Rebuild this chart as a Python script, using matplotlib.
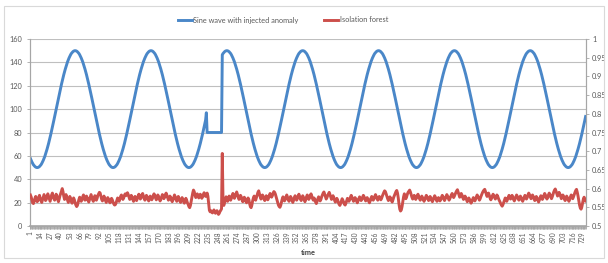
import numpy as np
import matplotlib
matplotlib.use("Agg")
import matplotlib.pyplot as plt
from matplotlib.lines import Line2D
from matplotlib.patches import Rectangle

plt.rcParams['font.family'] = ['Lato', 'DejaVu Sans']

series_names = ["Sine wave with injected anomaly", "Isolation forest"]

sine_wave = [
    57.8, 56.2, 54.8, 53.5, 52.4, 51.6, 50.9, 50.4, 50.1,
    # 10-109
    50.0, 50.1, 50.4, 50.9, 51.6, 52.4, 53.5, 54.8, 56.2, 57.8,
    59.5, 61.5, 63.6, 65.8, 68.1, 70.6, 73.2, 75.9, 78.7, 81.6,
    84.5, 87.6, 90.6, 93.7, 96.9, 100.0, 103.1, 106.3, 109.4, 112.4,
    115.5, 118.4, 121.3, 124.1, 126.8, 129.4, 131.9, 134.2, 136.4, 138.5,
    140.5, 142.2, 143.8, 145.2, 146.5, 147.6, 148.4, 149.1, 149.6, 149.9,
    150.0, 149.9, 149.6, 149.1, 148.4, 147.6, 146.5, 145.2, 143.8, 142.2,
    140.5, 138.5, 136.4, 134.2, 131.9, 129.4, 126.8, 124.1, 121.3, 118.4,
    115.5, 112.4, 109.4, 106.3, 103.1, 100.0, 96.9, 93.7, 90.6, 87.6,
    84.5, 81.6, 78.7, 75.9, 73.2, 70.6, 68.1, 65.8, 63.6, 61.5,
    59.5, 57.8, 56.2, 54.8, 53.5, 52.4, 51.6, 50.9, 50.4, 50.1,
    # 110-209
    50.0, 50.1, 50.4, 50.9, 51.6, 52.4, 53.5, 54.8, 56.2, 57.8,
    59.5, 61.5, 63.6, 65.8, 68.1, 70.6, 73.2, 75.9, 78.7, 81.6,
    84.5, 87.6, 90.6, 93.7, 96.9, 100.0, 103.1, 106.3, 109.4, 112.4,
    115.5, 118.4, 121.3, 124.1, 126.8, 129.4, 131.9, 134.2, 136.4, 138.5,
    140.5, 142.2, 143.8, 145.2, 146.5, 147.6, 148.4, 149.1, 149.6, 149.9,
    150.0, 149.9, 149.6, 149.1, 148.4, 147.6, 146.5, 145.2, 143.8, 142.2,
    140.5, 138.5, 136.4, 134.2, 131.9, 129.4, 126.8, 124.1, 121.3, 118.4,
    115.5, 112.4, 109.4, 106.3, 103.1, 100.0, 96.9, 93.7, 90.6, 87.6,
    84.5, 81.6, 78.7, 75.9, 73.2, 70.6, 68.1, 65.8, 63.6, 61.5,
    59.5, 57.8, 56.2, 54.8, 53.5, 52.4, 51.6, 50.9, 50.4, 50.1,
    # 210-233
    50.0, 50.1, 50.4, 50.9, 51.6, 52.4, 53.5, 54.8, 56.2, 57.8,
    59.5, 61.5, 63.6, 65.8, 68.1, 70.6, 73.2, 75.9, 78.7, 81.6,
    84.5, 87.6, 90.6, 96.9,
    # 234-253 injected anomaly
    80.0, 80.0, 80.0, 80.0, 80.0, 80.0, 80.0, 80.0, 80.0, 80.0,
    80.0, 80.0, 80.0, 80.0, 80.0, 80.0, 80.0, 80.0, 80.0, 80.0,
    # 254-309
    146.5, 147.6, 148.4, 149.1, 149.6, 149.9,
    150.0, 149.9, 149.6, 149.1, 148.4, 147.6, 146.5, 145.2, 143.8, 142.2,
    140.5, 138.5, 136.4, 134.2, 131.9, 129.4, 126.8, 124.1, 121.3, 118.4,
    115.5, 112.4, 109.4, 106.3, 103.1, 100.0, 96.9, 93.7, 90.6, 87.6,
    84.5, 81.6, 78.7, 75.9, 73.2, 70.6, 68.1, 65.8, 63.6, 61.5,
    59.5, 57.8, 56.2, 54.8, 53.5, 52.4, 51.6, 50.9, 50.4, 50.1,
    # 310-409
    50.0, 50.1, 50.4, 50.9, 51.6, 52.4, 53.5, 54.8, 56.2, 57.8,
    59.5, 61.5, 63.6, 65.8, 68.1, 70.6, 73.2, 75.9, 78.7, 81.6,
    84.5, 87.6, 90.6, 93.7, 96.9, 100.0, 103.1, 106.3, 109.4, 112.4,
    115.5, 118.4, 121.3, 124.1, 126.8, 129.4, 131.9, 134.2, 136.4, 138.5,
    140.5, 142.2, 143.8, 145.2, 146.5, 147.6, 148.4, 149.1, 149.6, 149.9,
    150.0, 149.9, 149.6, 149.1, 148.4, 147.6, 146.5, 145.2, 143.8, 142.2,
    140.5, 138.5, 136.4, 134.2, 131.9, 129.4, 126.8, 124.1, 121.3, 118.4,
    115.5, 112.4, 109.4, 106.3, 103.1, 100.0, 96.9, 93.7, 90.6, 87.6,
    84.5, 81.6, 78.7, 75.9, 73.2, 70.6, 68.1, 65.8, 63.6, 61.5,
    59.5, 57.8, 56.2, 54.8, 53.5, 52.4, 51.6, 50.9, 50.4, 50.1,
    # 410-509
    50.0, 50.1, 50.4, 50.9, 51.6, 52.4, 53.5, 54.8, 56.2, 57.8,
    59.5, 61.5, 63.6, 65.8, 68.1, 70.6, 73.2, 75.9, 78.7, 81.6,
    84.5, 87.6, 90.6, 93.7, 96.9, 100.0, 103.1, 106.3, 109.4, 112.4,
    115.5, 118.4, 121.3, 124.1, 126.8, 129.4, 131.9, 134.2, 136.4, 138.5,
    140.5, 142.2, 143.8, 145.2, 146.5, 147.6, 148.4, 149.1, 149.6, 149.9,
    150.0, 149.9, 149.6, 149.1, 148.4, 147.6, 146.5, 145.2, 143.8, 142.2,
    140.5, 138.5, 136.4, 134.2, 131.9, 129.4, 126.8, 124.1, 121.3, 118.4,
    115.5, 112.4, 109.4, 106.3, 103.1, 100.0, 96.9, 93.7, 90.6, 87.6,
    84.5, 81.6, 78.7, 75.9, 73.2, 70.6, 68.1, 65.8, 63.6, 61.5,
    59.5, 57.8, 56.2, 54.8, 53.5, 52.4, 51.6, 50.9, 50.4, 50.1,
    # 510-609
    50.0, 50.1, 50.4, 50.9, 51.6, 52.4, 53.5, 54.8, 56.2, 57.8,
    59.5, 61.5, 63.6, 65.8, 68.1, 70.6, 73.2, 75.9, 78.7, 81.6,
    84.5, 87.6, 90.6, 93.7, 96.9, 100.0, 103.1, 106.3, 109.4, 112.4,
    115.5, 118.4, 121.3, 124.1, 126.8, 129.4, 131.9, 134.2, 136.4, 138.5,
    140.5, 142.2, 143.8, 145.2, 146.5, 147.6, 148.4, 149.1, 149.6, 149.9,
    150.0, 149.9, 149.6, 149.1, 148.4, 147.6, 146.5, 145.2, 143.8, 142.2,
    140.5, 138.5, 136.4, 134.2, 131.9, 129.4, 126.8, 124.1, 121.3, 118.4,
    115.5, 112.4, 109.4, 106.3, 103.1, 100.0, 96.9, 93.7, 90.6, 87.6,
    84.5, 81.6, 78.7, 75.9, 73.2, 70.6, 68.1, 65.8, 63.6, 61.5,
    59.5, 57.8, 56.2, 54.8, 53.5, 52.4, 51.6, 50.9, 50.4, 50.1,
    # 610-709
    50.0, 50.1, 50.4, 50.9, 51.6, 52.4, 53.5, 54.8, 56.2, 57.8,
    59.5, 61.5, 63.6, 65.8, 68.1, 70.6, 73.2, 75.9, 78.7, 81.6,
    84.5, 87.6, 90.6, 93.7, 96.9, 100.0, 103.1, 106.3, 109.4, 112.4,
    115.5, 118.4, 121.3, 124.1, 126.8, 129.4, 131.9, 134.2, 136.4, 138.5,
    140.5, 142.2, 143.8, 145.2, 146.5, 147.6, 148.4, 149.1, 149.6, 149.9,
    150.0, 149.9, 149.6, 149.1, 148.4, 147.6, 146.5, 145.2, 143.8, 142.2,
    140.5, 138.5, 136.4, 134.2, 131.9, 129.4, 126.8, 124.1, 121.3, 118.4,
    115.5, 112.4, 109.4, 106.3, 103.1, 100.0, 96.9, 93.7, 90.6, 87.6,
    84.5, 81.6, 78.7, 75.9, 73.2, 70.6, 68.1, 65.8, 63.6, 61.5,
    59.5, 57.8, 56.2, 54.8, 53.5, 52.4, 51.6, 50.9, 50.4, 50.1,
    # 710-733
    50.0, 50.1, 50.4, 50.9, 51.6, 52.4, 53.5, 54.8, 56.2, 57.8,
    59.5, 61.5, 63.6, 65.8, 68.1, 70.6, 73.2, 75.9, 78.7, 81.6,
    84.5, 87.6, 90.6, 93.7,
]

isolation_forest = [
    .583, .578, .570, .562, .560, .566, .574, .579, .571, .565, .569, .577, .582, .575, .567, .563, .570, .578, .584, .576,
    .568, .571, .580, .586, .579, .572, .566, .574, .583, .588, .581, .573, .569, .576, .585, .580, .571, .565, .572, .581,
    .587, .593, .600, .592, .580, .571, .576, .584, .578, .569, .563, .570, .579, .574, .566, .561, .568, .575, .570, .562,
    .556, .552, .555, .563, .571, .577, .572, .566, .570, .578, .583, .576, .569, .573, .580, .575, .568, .564, .571, .579,
    .584, .577, .570, .566, .573, .581, .576, .569, .574, .582, .586, .590, .588, .579, .571, .567, .574, .580, .575, .568,
    .563, .569, .576, .572, .566, .562, .568, .574, .570, .564, .559, .556, .557, .562, .569, .575, .571, .566, .572, .579,
    .583, .577, .571, .575, .582, .586, .581, .585, .589, .584, .577, .571, .575, .582, .578, .571, .566, .572, .579, .574,
    .568, .573, .580, .585, .579, .572, .576, .583, .587, .580, .573, .569, .575, .582, .578, .571, .567, .573, .580, .576,
    .570, .574, .581, .586, .582, .575, .570, .576, .583, .579, .572, .567, .571, .578, .584, .579, .573, .577, .584, .588,
    .582, .575, .569, .573, .580, .576, .569, .565, .570, .577, .583, .578, .571, .566, .572, .579, .574, .567, .563, .569,
    .576, .572, .565, .561, .567, .574, .569, .562, .558, .552, .549, .555, .566, .578, .588, .596, .592, .583, .576, .580,
    .586, .582, .575, .579, .585, .581, .574, .578, .584, .589, .585, .579, .583, .588, .580, .560, .542, .538, .541, .537,
    .535, .539, .543, .538, .534, .537, .541, .536, .531, .534, .539, .542, .546,
    .694, .563,
    .555, .562, .571, .578, .573, .566, .572, .580, .576, .569, .574, .582, .587, .581, .574, .579, .586, .591, .584, .577,
    .571, .575, .582, .578, .570, .565, .571, .577, .573, .566, .562, .568, .575, .571, .560, .552, .549, .556, .567, .575,
    .580, .574, .569,
    .576, .584, .590, .594, .586, .578, .572, .576, .583, .579, .572, .568, .574, .581, .577, .570, .575, .582, .587, .583,
    .577, .581,
    .588, .592, .590, .585, .578, .571, .563, .556, .552, .550, .555, .564, .572, .578, .574, .567, .571, .578, .583, .577,
    .570, .566, .572, .579, .575, .568, .563, .569, .576, .581, .576, .569, .573, .580, .585, .579, .572, .568, .574, .581,
    .577, .570, .565, .571, .578, .583, .578, .571, .575, .582, .586, .580, .573, .569, .575, .571, .564, .560, .566, .573,
    .578, .572, .567, .571, .578, .583, .588, .591, .585, .578, .572, .576, .582, .586, .590, .584, .577, .571, .575, .581,
    .576, .569, .564, .568, .574, .570, .563, .558, .555, .560, .567, .573, .569, .563, .558, .556, .561, .568, .574, .570,
    .566, .571, .577, .582, .577, .571, .566, .570, .576, .573, .567, .562, .567, .573, .578, .574, .568, .571, .577, .582,
    .578, .572, .567, .571, .576, .572, .566, .562, .567, .574, .579, .575, .569, .573, .579, .584, .579, .573, .569, .574,
    .579, .575, .570, .574, .580, .585, .590, .594, .592, .586, .579, .573, .568, .572, .578, .574, .568, .564, .570, .577,
    .582, .587, .592, .595, .588, .575, .558, .545, .540, .543, .552, .565, .578, .586, .580, .573, .578, .585, .590, .593,
    .596, .591, .584, .577, .572, .576, .582, .578, .571, .575, .581, .585, .579, .573, .569, .574, .580, .576, .570, .566,
    .571, .577, .582, .578, .572, .568, .573, .579, .575, .569, .565, .570, .576, .581, .577, .571, .566, .570, .576, .572,
    .567, .571, .577, .582, .578, .572, .568, .573, .579, .584, .580, .574, .569, .573, .578, .583, .587, .582, .576, .580,
    .585, .590, .594, .597, .590, .583, .577, .582, .587, .583, .576, .571, .575, .580, .576, .570, .565, .569, .575, .571,
    .566, .561, .565, .571, .576, .572, .567, .572, .578, .583, .579, .574, .569, .573, .579, .584, .589, .593, .596, .598,
    .592, .585, .579, .583, .588, .582, .575, .570, .574, .580, .585, .581, .576, .572, .577, .583, .580, .574, .569, .565,
    .560, .556, .553, .557, .563, .569, .575, .571, .566, .571, .577, .582, .578, .572, .576, .582, .578, .571, .567, .572,
    .578, .583, .579, .573, .569, .574, .580, .576, .570, .566, .571, .577, .582, .578, .572, .576, .583, .588, .584, .578,
    .573, .577, .583, .579, .572, .568, .573, .579, .575, .569, .564, .569, .576, .581, .577, .571, .575, .582, .587, .583,
    .577, .572, .576, .583, .588, .584, .578, .573, .578, .585, .591, .596, .599, .593, .586, .580, .584, .590, .586, .579,
    .573, .577, .583, .579, .572, .568, .574, .580, .576, .570, .566, .571, .578, .583, .579, .573, .578, .584, .590, .595,
    .598, .590, .580, .568, .556, .548, .545, .551, .562, .572, .577, .571, .567,
]

n_points = len(sine_wave)
tick_labels = [str(v) for v in range(1, n_points + 1, 13)]
left_ticks = [0, 20, 40, 60, 80, 100, 120, 140, 160]
right_ticks = [0.5, 0.55, 0.6, 0.65, 0.7, 0.75, 0.8, 0.85, 0.9, 0.95, 1]
x_label = "time"

W, H = 608, 263
blue = '#4A87C8'
red = '#CC4F4B'
grid_c = '#BFBFBF'
axis_c = '#A6A6A6'
txt_c = '#595959'

fig = plt.figure(figsize=(W / 100, H / 100), dpi=100)
fig.patches.append(Rectangle((4 / W, 5 / H), 600 / W, 252 / H, transform=fig.transFigure,
                             fill=False, edgecolor='#D9D9D9', linewidth=0.8))

ax = fig.add_axes([30 / W, 1 - 226 / H, 556 / W, 187 / H])
ax2 = ax.twinx()

x_blue = np.arange(1, len(sine_wave) + 1)
x_red = np.arange(1, len(isolation_forest) + 1)
ax.plot(x_blue, sine_wave, color=blue, linewidth=2.1, solid_joinstyle='round', zorder=3)
ax2.plot(x_red, isolation_forest, color=red, linewidth=2.1, solid_joinstyle='round', zorder=3)

ax.set_xlim(0.5, n_points + 0.5)
ax.set_ylim(0, 160)
ax2.set_ylim(0.5, 1)

ax.set_yticks(left_ticks)
ax.set_yticklabels([str(v) for v in left_ticks], fontsize=5.3, color=txt_c)
ax2.set_yticks(right_ticks)
ax2.set_yticklabels([f"{v:g}" for v in right_ticks], fontsize=5.3, color=txt_c)
ax.yaxis.grid(True, color=grid_c, linewidth=0.8)
ax.set_axisbelow(True)

ax.set_xticks(list(range(1, n_points + 1, 13)))
ax.set_xticklabels(tick_labels, rotation=90, fontsize=4.8, color=txt_c)
ax.set_xticks(np.arange(0.5, n_points + 1, 1), minor=True)
ax.tick_params(axis='x', which='both', length=2.2, width=0.6, color=axis_c, pad=1.5)
ax.tick_params(axis='y', length=2.5, width=0.6, color=axis_c, pad=3)
ax2.tick_params(axis='y', length=2.5, width=0.6, color=axis_c, pad=2)

for a in (ax, ax2):
    a.spines['top'].set_visible(False)
    for s in ('left', 'right', 'bottom'):
        a.spines[s].set_color(axis_c)
        a.spines[s].set_linewidth(0.8)
ax.spines['bottom'].set_linewidth(1.2)

ax.set_xlabel(x_label, fontsize=5.3, fontweight='bold', color='#404040', labelpad=2)
ax.xaxis.set_label_coords(0.5, -0.125)

handles = [Line2D([], [], color=blue, linewidth=2.1), Line2D([], [], color=red, linewidth=2.1)]
fig.legend(handles, series_names, loc='center', bbox_to_anchor=(283 / W, 1 - 20 / H), ncol=2,
           frameon=False, fontsize=5.3, handlelength=1.9, handletextpad=0.2, columnspacing=3.5,
           labelcolor=txt_c)

fig.savefig('out.png', dpi=100)
